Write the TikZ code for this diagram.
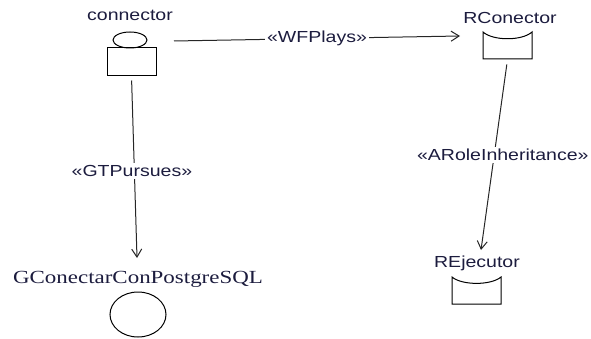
\documentclass[tikz,border=0pt]{standalone}
\usepackage{fontspec}
\setmainfont{Liberation Serif}
\setsansfont{Liberation Sans}
\usetikzlibrary{arrows.meta,shapes.geometric}
\definecolor{ink}{RGB}{28,28,62}
\begin{document}
\begin{tikzpicture}[x=1pt,y=-1pt,
  line width=1pt,
  eltname/.style={font=\sffamily\fontsize{16}{18}\selectfont, text=ink, xscale=1.22, inner sep=0pt, anchor=base},
  goalname/.style={font=\rmfamily\fontsize{18.5}{20}\selectfont, text=ink, xscale=1.24, inner sep=0pt, anchor=base},
  lbl/.style={font=\sffamily\fontsize{16}{18}\selectfont, text=ink, xscale=1.22, fill=white, inner sep=2pt},
  rel/.style={draw=black!85, -{Straight Barb[length=8pt,width=10pt]}},
  bowlbox/.style={minimum width=49pt, minimum height=27pt, inner sep=0pt},
]
\useasboundingbox (0,0) rectangle (591,339);

% agent "connector": head and body
\node[eltname] (cname) at (130,21) {connector};
\node[draw, ellipse, minimum width=34pt, minimum height=16pt, inner sep=0pt] (chead) at (130,40) {};
\node[draw, rectangle, minimum width=49pt, minimum height=28pt, inner sep=0pt] (cbody) at (131.5,62) {};

% role "RConector"
\node[eltname] (rcname) at (510,24) {RConector};
\node[bowlbox] (rc) at (507.5,45.5) {};
\draw[shift={(rc.center)}] (-24.5,-13.5) -- (-24.5,13.5) -- (24.5,13.5) -- (24.5,-13.5)
  .. controls (14.5,-4.5) and (-14.5,-4.5) .. cycle;

% role "REjecutor"
\node[eltname] (rename) at (477,267) {REjecutor};
\node[bowlbox] (re) at (476.5,290.5) {};
\draw[shift={(re.center)}] (-24.5,-13.5) -- (-24.5,13.5) -- (24.5,13.5) -- (24.5,-13.5)
  .. controls (14.5,-5) and (-14.5,-5) .. cycle;

% goal "GConectarConPostgreSQL"
\node[goalname] (gname) at (138,283) {GConectarConPostgreSQL};
\node[draw, ellipse, minimum width=56pt, minimum height=45pt, inner sep=0pt] (goal) at (138,314.5) {};

% free ends of the connectors
\coordinate (wfstart) at (174,41);
\coordinate (wfend) at (460,36);
\coordinate (gtip) at (137,258);
\coordinate (retip) at (481,250);

% relations
\draw[rel] (wfstart) -- node[lbl, pos=0.5] {«WFPlays»} (wfend);
\draw[rel, shorten <=4pt] (cbody.south) -- node[lbl, pos=0.52, xshift=-2pt] {«GTPursues»} (gtip);
\draw[rel, shorten <=5pt] (rc.south) -- node[lbl, pos=0.5, xshift=7pt] {«ARoleInheritance»} (retip);
\end{tikzpicture}
\end{document}
